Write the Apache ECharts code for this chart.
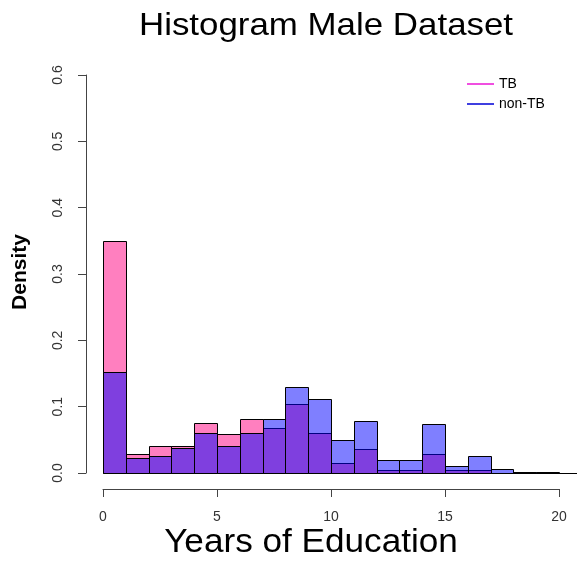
<!DOCTYPE html>
<html>
<head>
<meta charset="utf-8">
<script src="https://cdn.jsdelivr.net/npm/echarts@6/dist/echarts.min.js"></script>
<style>
  html, body { margin: 0; padding: 0; background: #fff; }
  #chart { width: 577px; height: 563px; }
</style>
</head>
<body>
<div id="chart"></div>
<script>
// Histogram bins: each bin spans [start, start + 1) years of education
const binStarts = [0, 1, 2, 3, 4, 5, 6, 7, 8, 9, 10, 11, 12, 13, 14, 15, 16, 17, 18, 19, 20, 21];
const binWidth = 1;

// Density per bin for each group
const tbDensity = [0.350, 0.029, 0.040, 0.041, 0.076, 0.059, 0.082, 0.068, 0.104, 0.061, 0.015,
                   0.036, 0.005, 0.005, 0.028, 0.004, 0.004, 0, 0, 0, 0, 0];
const nonTbDensity = [0.152, 0.022, 0.026, 0.037, 0.061, 0.040, 0.061, 0.081, 0.130, 0.111, 0.049,
                      0.079, 0.020, 0.020, 0.074, 0.010, 0.025, 0.006, 0.0015, 0.0015, 0, 0];

const xTicks = [0, 5, 10, 15, 20];
const yTicks = [0, 0.1, 0.2, 0.3, 0.4, 0.5, 0.6];

const FONT = '"Liberation Sans", Arial, Helvetica, sans-serif';

function toBins(values) {
  return binStarts.map((s, i) => [s, s + binWidth, values[i]]);
}

function histRenderer(fill) {
  return function (params, api) {
    const p0 = api.coord([api.value(0), 0]);
    const p1 = api.coord([api.value(1), api.value(2)]);
    const x0 = Math.round(p0[0]) + 0.5;
    const x1 = Math.round(p1[0]) + 0.5;
    const yb = Math.round(p0[1]) + 0.5;
    const yt = Math.round(p1[1]) + 0.5;
    return {
      type: 'rect',
      shape: { x: x0, y: yt, width: x1 - x0, height: yb - yt },
      style: { fill: fill, stroke: '#000', lineWidth: 1 }
    };
  };
}

const axisCommon = {
  axisLine: { show: true, onZero: false, lineStyle: { color: '#444', width: 1 } },
  axisTick: { show: true, length: 8, lineStyle: { color: '#444', width: 1 } },
  splitLine: { show: false }
};

const chart = echarts.init(document.getElementById('chart'), null, { renderer: 'canvas' });

chart.setOption({
  animation: false,
  backgroundColor: '#fff',
  grid: { left: 103, right: 18, top: 75, bottom: 90, containLabel: false },
  xAxis: Object.assign({
    type: 'value',
    min: xTicks[0],
    max: xTicks[xTicks.length - 1],
    interval: xTicks[1] - xTicks[0],
    offset: 16,
    axisLabel: { fontFamily: FONT, fontSize: 14, color: '#333', margin: 21 }
  }, axisCommon),
  yAxis: Object.assign({
    type: 'value',
    min: yTicks[0],
    max: yTicks[yTicks.length - 1],
    interval: 0.1,
    offset: 17,
    axisLabel: {
      fontFamily: FONT, fontSize: 14, color: '#333', rotate: 90, margin: 21,
      formatter: v => v.toFixed(1)
    }
  }, axisCommon),
  legend: {
    orient: 'vertical',
    left: 462,
    top: 72,
    itemWidth: 27,
    itemHeight: 2,
    itemGap: 6,
    textStyle: { fontFamily: FONT, fontSize: 14, color: '#000', lineHeight: 14 },
    data: [
      { name: 'TB', icon: 'rect', itemStyle: { color: '#f04fe0' } },
      { name: 'non-TB', icon: 'rect', itemStyle: { color: '#3f3fe0' } }
    ]
  },
  graphic: [
    {
      type: 'text', x: 326, y: 26, scaleX: 1.09,
      style: { text: 'Histogram Male Dataset', font: '32px ' + FONT, fill: '#000',
               textAlign: 'center', textVerticalAlign: 'middle' }
    },
    {
      type: 'text', x: 311, y: 543, scaleX: 1.065,
      style: { text: 'Years of Education', font: '33px ' + FONT, fill: '#000',
               textAlign: 'center', textVerticalAlign: 'middle' }
    },
    {
      type: 'text', x: 20, y: 272, rotation: Math.PI / 2,
      style: { text: 'Density', font: 'bold 21px ' + FONT, fill: '#000',
               textAlign: 'center', textVerticalAlign: 'middle' }
    }
  ],
  series: [
    {
      name: 'TB',
      type: 'custom',
      clip: false,
      itemStyle: { color: 'rgba(255,0,128,0.5)' },
      renderItem: histRenderer('rgba(255,0,128,0.5)'),
      encode: { x: [0, 1], y: 2 },
      data: toBins(tbDensity)
    },
    {
      name: 'non-TB',
      type: 'custom',
      clip: false,
      itemStyle: { color: 'rgba(0,0,255,0.5)' },
      renderItem: histRenderer('rgba(0,0,255,0.5)'),
      encode: { x: [0, 1], y: 2 },
      data: toBins(nonTbDensity)
    }
  ]
});
</script>
</body>
</html>
